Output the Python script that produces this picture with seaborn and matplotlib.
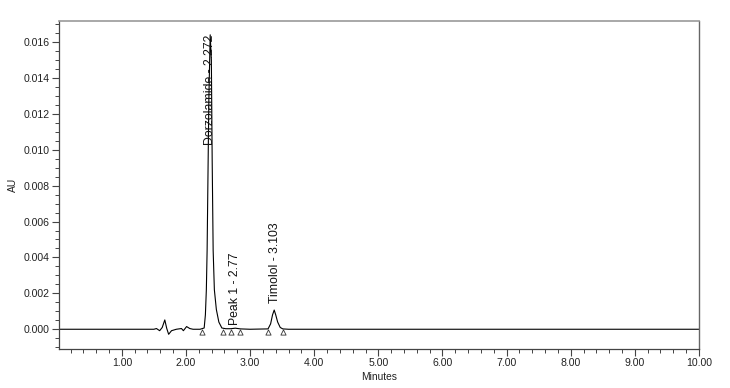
import matplotlib
matplotlib.use("Agg")
import matplotlib.pyplot as plt
import seaborn as sns
import pandas as pd
from matplotlib.ticker import MultipleLocator, FormatStrFormatter

# chromatogram trace (minutes, AU)
minutes = [0.02, 1.00, 1.50, 1.54, 1.59, 1.63, 1.67, 1.70, 1.73, 1.775, 1.85, 1.93, 1.96,
           2.01, 2.06, 2.11, 2.22, 2.284, 2.303, 2.318, 2.330, 2.346, 2.357, 2.378,
           2.396, 2.409, 2.424, 2.443, 2.474, 2.513, 2.56, 2.62, 2.70, 2.77, 2.85,
           3.00, 3.28, 3.32, 3.35, 3.376, 3.40, 3.43, 3.47, 3.51, 3.60, 5.00, 7.00, 10.00]
au = [0.0, 0.0, 0.0, 0.00004, -0.00008, 0.0001, 0.00052, 0.00005, -0.00028, -0.00008,
      0.0, 0.00004, -0.00008, 0.00015, 0.00004, 0.0, 0.0, 0.00007, 0.0008, 0.0022,
      0.0044, 0.0094, 0.0128, 0.0164, 0.0150, 0.0094, 0.0044, 0.0022, 0.0011, 0.0004,
      0.00007, 0.00003, 0.00003, 0.00006, 0.00002, 0.0, 0.00002, 0.0003, 0.0008,
      0.00107, 0.0008, 0.0004, 0.0001, 0.00002, 0.0, 0.0, 0.0, 0.0]

# peak start / end markers
mark_min = [2.25, 2.58, 2.70, 2.85, 3.28, 3.51]
mark_au = [-0.00013] * 6

# peak labels
peak_names = ["Dorzolamide - 2.272", "Peak 1 - 2.77", "Timolol - 3.103"]
peak_min = [2.38, 2.76, 3.39]
peak_au = [0.0164, 0.00006, 0.00107]

sns.set_style("ticks")
plt.rcParams['font.family'] = ['Liberation Sans', 'DejaVu Sans']

fig = plt.figure(figsize=(7.3, 3.88), dpi=100)
ax = fig.add_axes([0.0808, 0.1005, 0.8767, 0.8454])

df = pd.DataFrame({"Minutes": minutes, "AU": au})
sns.lineplot(data=df, x="Minutes", y="AU", ax=ax, color="black", linewidth=0.8,
             estimator=None, sort=False)
sns.scatterplot(x=mark_min, y=mark_au, ax=ax, marker="^", s=14, facecolor="white",
                edgecolor="#333333", linewidth=0.6, zorder=3)

label_kw = dict(rotation=90, ha="center", fontsize=8.8, color="#111111")
ax.annotate(peak_names[0], (peak_min[0], peak_au[0]), va="top", **label_kw)
ax.annotate(peak_names[1], (peak_min[1], peak_au[1]), xytext=(0, 2.5),
            textcoords="offset points", va="bottom", **label_kw)
ax.annotate(peak_names[2], (peak_min[2], peak_au[2]), xytext=(0, 5),
            textcoords="offset points", va="bottom", **label_kw)

ax.set_xlim(0.02, 10.0)
ax.set_ylim(-0.0011, 0.01717)
ax.xaxis.set_major_locator(MultipleLocator(1.0))
ax.xaxis.set_minor_locator(MultipleLocator(0.2))
ax.xaxis.set_major_formatter(FormatStrFormatter("%.2f"))
ax.yaxis.set_major_locator(MultipleLocator(0.002))
ax.yaxis.set_minor_locator(MultipleLocator(0.0005))
ax.yaxis.set_major_formatter(FormatStrFormatter("%.3f"))

ax.tick_params(axis="both", which="major", labelsize=7.6, length=5, width=0.8,
               color="#444444", labelcolor="#222222", pad=1.5)
ax.tick_params(axis="both", which="minor", length=3, width=0.7, color="#444444")

ax.set_xlabel("Minutes", fontsize=7.4, color="#222222", labelpad=3)
ax.set_ylabel("AU", fontsize=7.4, color="#222222", labelpad=4)

for side in ["left", "bottom"]:
    ax.spines[side].set_color("#444444")
    ax.spines[side].set_linewidth(0.9)
ax.spines["top"].set_color("#999999")
ax.spines["top"].set_linewidth(1.2)
ax.spines["right"].set_color("#666666")
ax.spines["right"].set_linewidth(1.0)

fig.savefig("out.png", dpi=100)
